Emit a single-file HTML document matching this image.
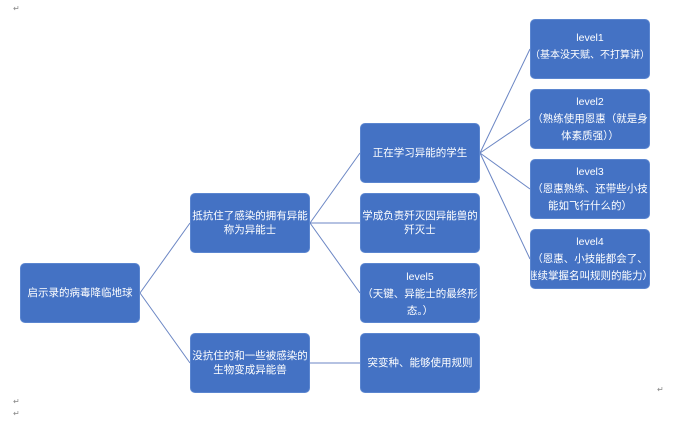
<!DOCTYPE html><html><head><meta charset="utf-8"><style>
body{margin:0;width:700px;height:423px;background:#fff;position:relative;overflow:hidden;font-family:"Liberation Sans","Noto Sans CJK SC",sans-serif}
.b{position:absolute;width:120px;height:60px;background:#4472c4;border:1px solid #5b86d0;box-sizing:border-box;border-radius:5px;color:#fff;font-size:10.5px;line-height:14px;display:flex;align-items:center;justify-content:center;text-align:center;padding:0 1px}
.m{position:absolute;font-size:8px;color:#888}
svg{position:absolute;left:0;top:0}
</style></head><body>
<svg width="700" height="423"><g stroke="#6b86c4" stroke-width="1" fill="none">
<path d="M140 293L190 223M140 293L190 363M310 223L360 153M310 223L360 223M310 223L360 293M310 363L360 363M480 153L530 49M480 153L530 119M480 153L530 189M480 153L530 259"/></g></svg>
<div class="b" style="left:20px;top:263px">启示录的病毒降临地球</div>
<div class="b" style="left:190px;top:193px">抵抗住了感染的拥有异能<br>称为异能士</div>
<div class="b" style="left:190px;top:333px">没抗住的和一些被感染的<br>生物变成异能兽</div>
<div class="b" style="left:360px;top:123px">正在学习异能的学生</div>
<div class="b" style="left:360px;top:193px">学成负责歼灭因异能兽的<br>歼灭士</div>
<div class="b" style="left:360px;top:263px;align-items:flex-start;padding-top:6px;overflow:hidden"><span>level5<br><span style="line-height:20px">（天键、异能士的最终形</span><br>态。）</span></div>
<div class="b" style="left:360px;top:333px">突变种、能够使用规则</div>
<div class="b" style="left:530px;top:19px;overflow:hidden"><span style="white-space:nowrap">level1<br><span style="line-height:22px;font-size:10px">（基本没天赋、不打算讲）</span></span></div>
<div class="b" style="left:530px;top:89px"><span>level2<br><span style="line-height:20px">（熟练使用恩惠（就是身</span><br>体素质强））</span></div>
<div class="b" style="left:530px;top:159px"><span>level3<br><span style="line-height:20px">（恩惠熟练、还带些小技</span><br>能如飞行什么的）</span></div>
<div class="b" style="left:530px;top:229px;overflow:hidden"><span style="white-space:nowrap">level4<br><span style="line-height:20px">（恩惠、小技能都会了、</span><br>继续掌握名叫规则的能力）</span></div>
<div class="m" style="left:13px;top:4px">↵</div>
<div class="m" style="left:13px;top:397px">↵</div>
<div class="m" style="left:13px;top:409px">↵</div>
<div class="m" style="left:657px;top:385px">↵</div>
</body></html>
